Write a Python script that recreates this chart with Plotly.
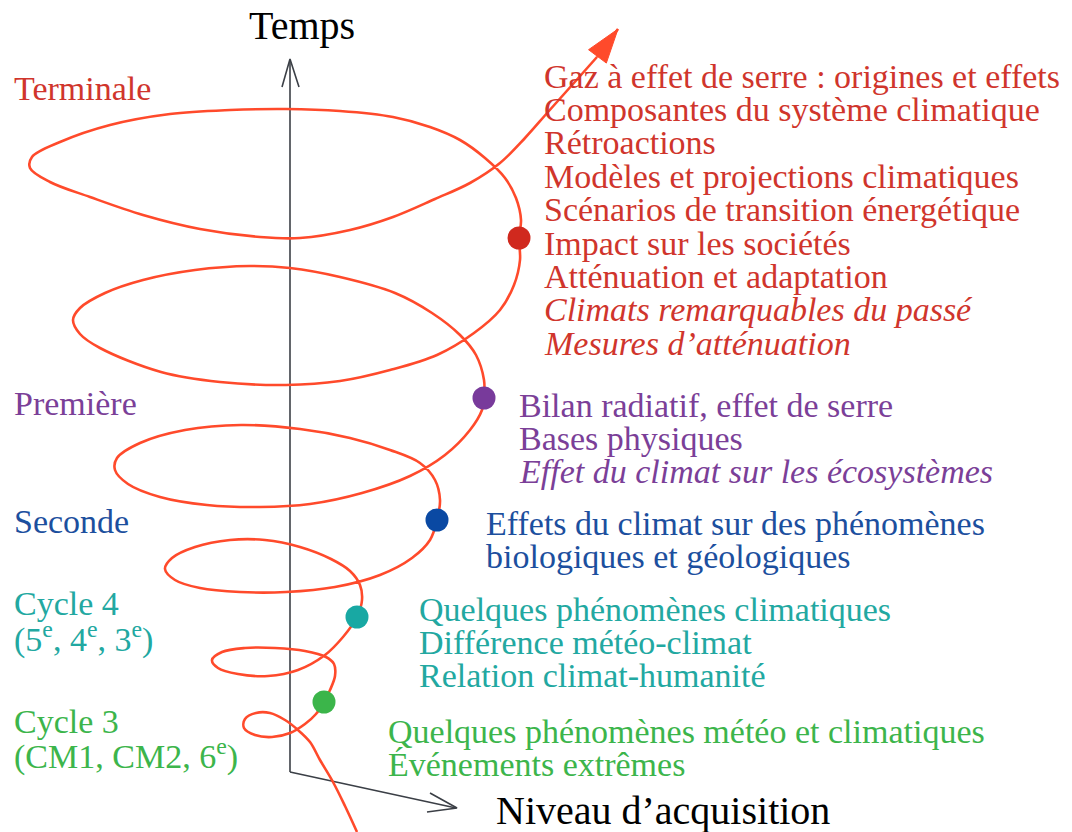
import plotly.graph_objects as go

# ---------------- data ----------------
# spiral path (pixel coordinates, y grows downward)
spiral_x = [357, 345, 333, 320, 310, 298, 285, 270, 256, 245, 244, 255, 272, 290, 305, 316, 324,
            330, 335, 334, 326, 305, 275, 245, 222, 212, 218, 238, 268, 298, 325, 343, 357,
            362, 360, 350, 331, 300, 265, 230, 195, 172, 165, 175, 200, 240, 286, 335, 380, 412, 430, 437,
            440, 435, 420, 390, 350, 300, 241, 185, 140, 117, 115, 128, 160, 207, 260, 310, 362, 410, 445, 470, 482, 484,
            484, 476, 460, 432, 395, 340, 290, 250, 195, 143, 105, 80, 73, 80, 100, 161, 220, 286, 340, 390, 437, 474, 500, 514, 520, 519,
            521, 516, 505, 485, 460, 430, 393, 340, 286, 230, 170, 110, 60, 32, 30, 50, 90, 143, 200, 260, 300, 350, 393, 435, 470, 500, 525, 548, 573, 597]
spiral_y = [832, 806, 782, 760, 742, 730, 720, 713, 713, 719, 728, 735, 737, 733, 724, 714, 702,
            690, 676, 664, 657, 651, 648, 648, 652, 660, 668, 674, 676, 670, 655, 637, 617,
            600, 585, 571, 559, 547, 540, 540, 547, 558, 569, 580, 588, 592, 592, 587, 575, 558, 540, 520,
            500, 480, 463, 450, 438, 429, 425, 430, 443, 458, 470, 484, 497, 505, 507, 504, 493, 476, 455, 430, 410, 398,
            380, 355, 335, 313, 293, 277, 268, 266, 270, 280, 293, 308, 320, 334, 348, 372, 382, 385, 381, 370, 355, 333, 310, 285, 260, 238,
            220, 198, 178, 158, 140, 127, 117, 111, 109, 110, 114, 125, 142, 157, 168, 182, 197, 215, 229, 237, 238, 230, 217, 199, 183, 163, 138, 112, 84, 57]
arrow_tip = (618, 29)

levels = ["Terminale", "Première", "Seconde", "Cycle 4", "Cycle 3"]
level_sub = ["", "", "", "(5<sup>e</sup>, 4<sup>e</sup>, 3<sup>e</sup>)", "(CM1, CM2, 6<sup>e</sup>)"]
dot_x = [519, 484, 437, 357, 324]
dot_y = [238, 398, 520, 617, 702]

topics_terminale = ["Gaz à effet de serre : origines et effets",
                    "Composantes du système climatique",
                    "Rétroactions",
                    "Modèles et projections climatiques",
                    "Scénarios de transition énergétique",
                    "Impact sur les sociétés",
                    "Atténuation et adaptation",
                    "<i>Climats remarquables du passé</i>",
                    "<i>Mesures d’atténuation</i>"]
topics_premiere = ["Bilan radiatif, effet de serre",
                   "Bases physiques",
                   "<i>Effet du climat sur les écosystèmes</i>"]
topics_seconde = ["Effets du climat sur des phénomènes",
                  "biologiques et géologiques"]
topics_cycle4 = ["Quelques phénomènes climatiques",
                 "Différence météo-climat",
                 "Relation climat-humanité"]
topics_cycle3 = ["Quelques phénomènes météo et climatiques",
                 "Événements extrêmes"]
topics = [topics_terminale, topics_premiere, topics_seconde, topics_cycle4, topics_cycle3]

axis_y_title = "Temps"
axis_x_title = "Niveau d’acquisition"

# ---------------- styles / layout ----------------
dot_colors = ["#d0291e", "#783a9b", "#0a49a3", "#18a8a3", "#3bb54a"]
text_colors = ["#d0352c", "#7b3f98", "#1c4f9e", "#22a8a1", "#3cb54b"]
spiral_color = "#ff4a2b"
axis_color = "#3b3f46"
FONT = "Liberation Serif, Times New Roman, serif"
FS = 34
XS = -3
level_pos = [(15, 88, None), (15, 403, None), (15, 521, None), (15, 603, 637), (15, 721, 754)]
topic_pos = [(545, 76), (520, 405), (487, 523), (420, 609), (389, 731)]
LINE = 33.4

fig = go.Figure()

# axes (open arrowheads)
fig.add_trace(go.Scatter(x=[290, 290, None, 282, 290, 299],
                         y=[772, 60, None, 87, 59, 87],
                         mode="lines", line=dict(color=axis_color, width=1.6),
                         hoverinfo="skip", showlegend=False))
fig.add_trace(go.Scatter(x=[290, 456, None, 430, 457, 427],
                         y=[772, 808, None, 793, 808, 812],
                         mode="lines", line=dict(color=axis_color, width=1.6),
                         hoverinfo="skip", showlegend=False))

# spiral
fig.add_trace(go.Scatter(x=spiral_x, y=spiral_y, mode="lines",
                         line=dict(color=spiral_color, width=2.6, shape="spline", smoothing=1.0),
                         hoverinfo="skip", showlegend=False))
# arrow head at the end of the spiral
fig.add_trace(go.Scatter(x=[spiral_x[-1], arrow_tip[0]], y=[spiral_y[-1], arrow_tip[1]],
                         mode="lines", line=dict(color=spiral_color, width=2.6),
                         hoverinfo="skip", showlegend=False))
fig.add_trace(go.Scatter(x=[spiral_x[-1], arrow_tip[0]], y=[spiral_y[-1], arrow_tip[1]],
                         mode="markers", opacity=1,
                         marker=dict(symbol="arrow", size=[0, 36], color=spiral_color, opacity=1,
                                     angleref="previous", line=dict(width=1, color=spiral_color)),
                         hoverinfo="skip", showlegend=False))

# level dots
fig.add_trace(go.Scatter(x=dot_x, y=dot_y, mode="markers",
                         marker=dict(size=23, color=dot_colors, opacity=1, line=dict(width=0)),
                         hoverinfo="skip", showlegend=False))

ann = []
for i, lvl in enumerate(levels):
    lx, ly, ly2 = level_pos[i]
    ann.append(dict(x=lx, y=ly, text=lvl, xanchor="left", yanchor="middle", showarrow=False, xshift=XS,
                    font=dict(family=FONT, size=FS, color=text_colors[i])))
    if level_sub[i]:
        ann.append(dict(x=lx, y=ly2, text=level_sub[i], xanchor="left", yanchor="middle", showarrow=False,
                        xshift=XS, font=dict(family=FONT, size=FS, color=text_colors[i])))
    tx, ty = topic_pos[i]
    for j, t in enumerate(topics[i]):
        ann.append(dict(x=tx, y=ty + j * LINE, text=t, xanchor="left", yanchor="middle", showarrow=False,
                        xshift=XS, font=dict(family=FONT, size=FS, color=text_colors[i])))

ann.append(dict(x=302, y=25, text=axis_y_title, xanchor="center", yanchor="middle", showarrow=False,
                font=dict(family=FONT, size=40, color="#000000")))
ann.append(dict(x=497, y=810, text=axis_x_title, xanchor="left", yanchor="middle", showarrow=False,
                xshift=XS, font=dict(family=FONT, size=40, color="#000000")))

fig.update_layout(
    width=1072, height=832,
    margin=dict(l=0, r=0, t=0, b=0),
    paper_bgcolor="white", plot_bgcolor="white",
    xaxis=dict(range=[0, 1072], visible=False, fixedrange=True),
    yaxis=dict(range=[832, 0], visible=False, fixedrange=True),
    annotations=ann,
    showlegend=False,
)

fig.write_html("out.html", config={"displayModeBar": False},
               post_script="document.body.style.margin='0';")
